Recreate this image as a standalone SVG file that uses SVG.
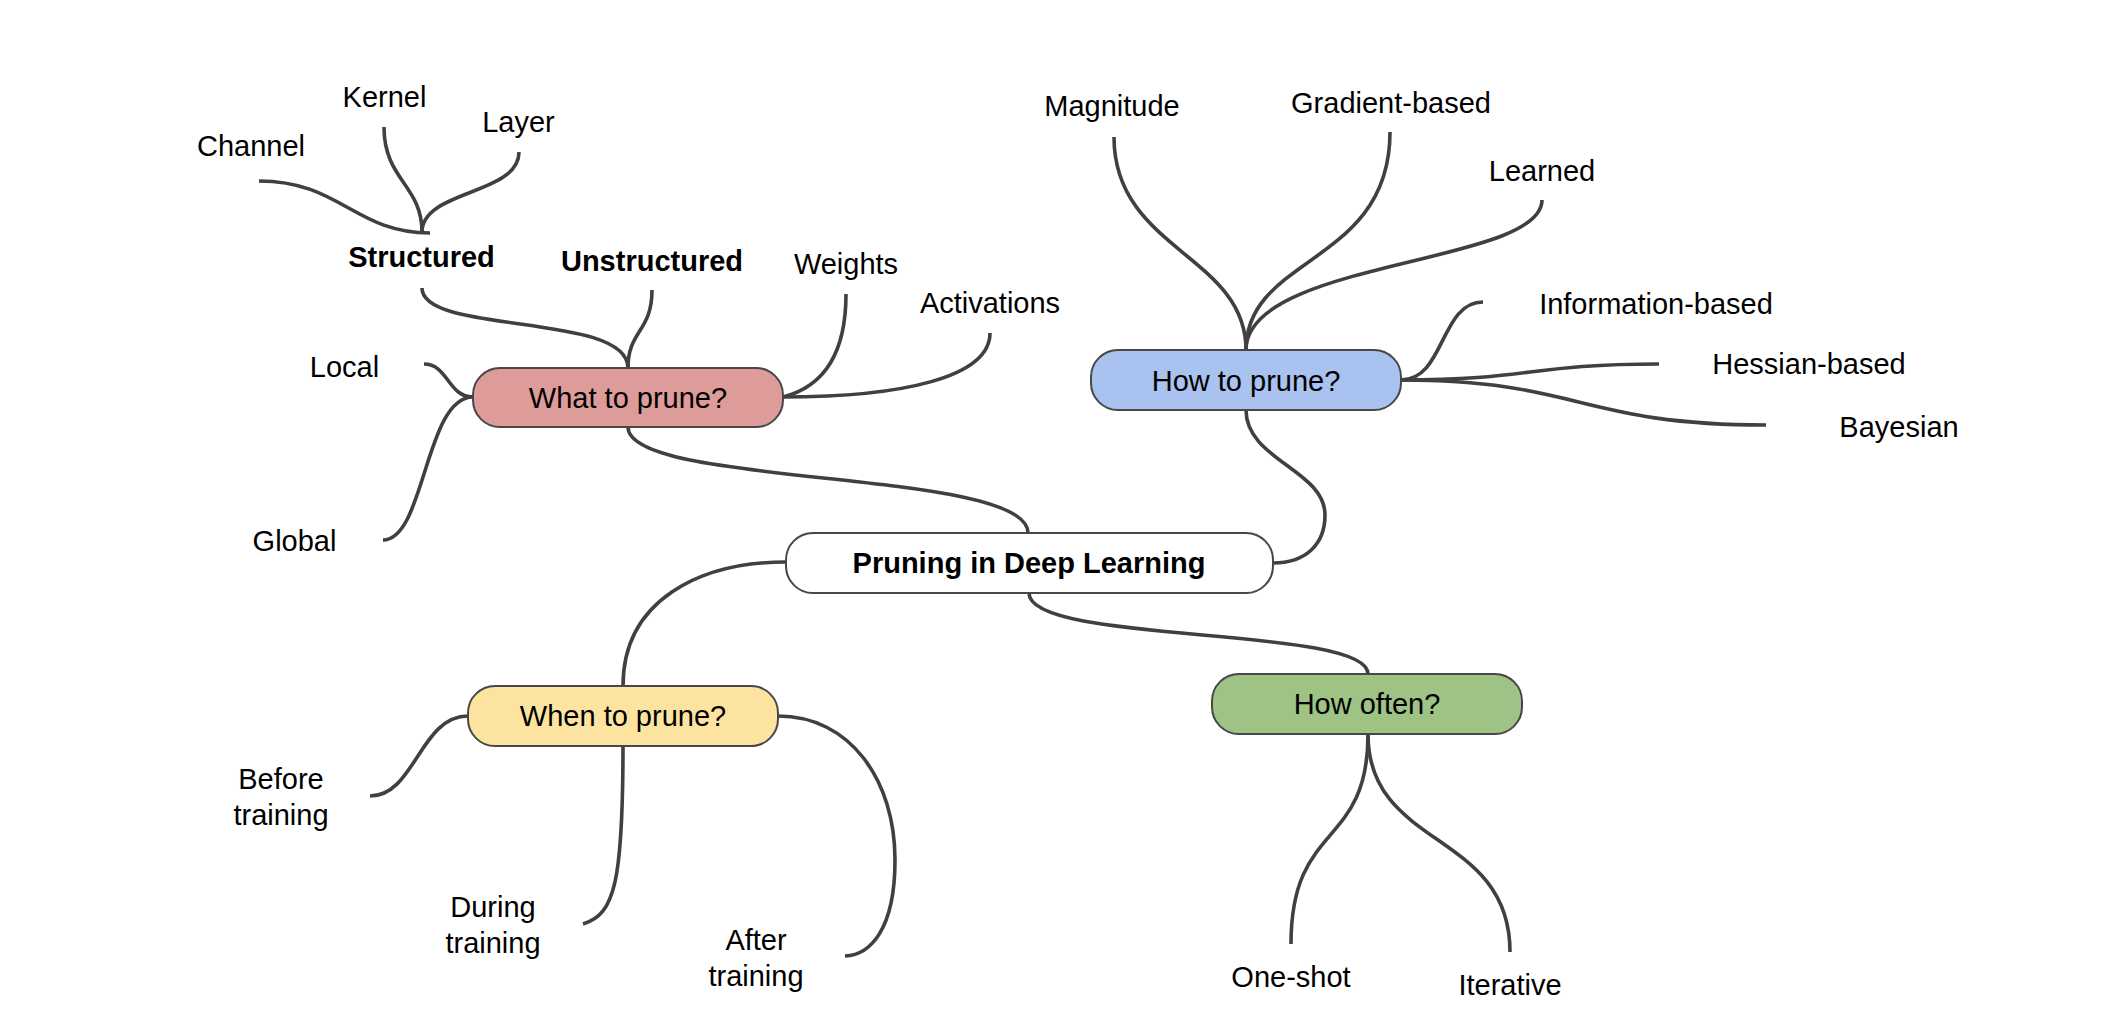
<svg xmlns="http://www.w3.org/2000/svg" width="2108" height="1028" viewBox="0 0 2108 1028">
<style>
.bg{fill:#ffffff}
.conn path{fill:none;stroke:#404040;stroke-width:3.6;stroke-linecap:butt}
.node rect{stroke:#474747;stroke-width:2}
text{font-family:"Liberation Sans",Arial,sans-serif;font-size:29px;fill:#000;text-anchor:middle}
.b{font-weight:bold}
</style>
<rect class="bg" x="0" y="0" width="2108" height="1028"/>
<g id="connectors" class="conn">
<path d="M1028,533 C1028,468 628,488 628,427"/>
<path d="M1273,563 C1305,563 1325,545 1325,515 C1325,470 1246,460 1246,410"/>
<path d="M786,562 C700,562 623,600 623,686"/>
<path d="M1029,593 C1029,645 1368,625 1368,674"/>
<path d="M628,368 C628,312 422,335 422,288"/>
<path d="M628,368 C628,330 652,332 652,290"/>
<path d="M783,397 C830,385 846,345 846,294"/>
<path d="M783,397 C900,397 990,378 990,333"/>
<path d="M473,397 C448,397 448,364 424,364"/>
<path d="M473,397 C425,397 425,540 383,540"/>
<path d="M430,233 C355,233 340,181 259,181"/>
<path d="M422,232 C422,185 384,180 384,127"/>
<path d="M422,232 C422,190 519,195 519,152"/>
<path d="M1246,350 C1246,255 1114,250 1114,137"/>
<path d="M1246,350 C1246,255 1390,265 1390,132"/>
<path d="M1246,350 C1246,260 1542,265 1542,200"/>
<path d="M1401,380 C1445,380 1440,302 1483,302"/>
<path d="M1401,380 C1530,380 1530,364 1659,364"/>
<path d="M1401,380 C1580,380 1580,425 1766,425"/>
<path d="M1368,734 C1368,850 1291,820 1291,944"/>
<path d="M1368,734 C1368,850 1510,830 1510,952"/>
<path d="M468,716 C420,716 415,796 370,796"/>
<path d="M623,746 C623,880 615,915 583,924"/>
<path d="M778,716 C850,716 895,780 895,860 C895,930 870,955 845,956"/>
</g>
<g id="central" class="node"><rect x="786" y="533" width="487" height="60" rx="27" fill="#ffffff"/><text class="b" x="1029" y="573">Pruning in Deep Learning</text></g>
<g id="what" class="node"><rect x="473" y="368" width="310" height="59" rx="27" fill="#dd9c9a"/><text x="628" y="408">What to prune?</text></g>
<g id="how" class="node"><rect x="1091" y="350" width="310" height="60" rx="27" fill="#a9c2ef"/><text x="1246" y="391">How to prune?</text></g>
<g id="often" class="node"><rect x="1212" y="674" width="310" height="60" rx="27" fill="#9ec385"/><text x="1367" y="714">How often?</text></g>
<g id="when" class="node"><rect x="468" y="686" width="310" height="60" rx="27" fill="#fce4a0"/><text x="623" y="726">When to prune?</text></g>
<g id="channel"><text x="251" y="156">Channel</text></g>
<g id="kernel"><text x="384.5" y="107">Kernel</text></g>
<g id="layer"><text x="518.5" y="132">Layer</text></g>
<g id="structured"><text class="b" x="421.5" y="267">Structured</text></g>
<g id="unstructured"><text class="b" x="652" y="271">Unstructured</text></g>
<g id="weights"><text x="846" y="274">Weights</text></g>
<g id="activations"><text x="990" y="313">Activations</text></g>
<g id="local"><text x="344.5" y="377">Local</text></g>
<g id="global"><text x="294.5" y="551">Global</text></g>
<g id="magnitude"><text x="1112" y="116">Magnitude</text></g>
<g id="gradient"><text x="1391" y="113">Gradient-based</text></g>
<g id="learned"><text x="1542" y="181">Learned</text></g>
<g id="information"><text x="1656" y="314">Information-based</text></g>
<g id="hessian"><text x="1809" y="374">Hessian-based</text></g>
<g id="bayesian"><text x="1899" y="437">Bayesian</text></g>
<g id="oneshot"><text x="1291" y="987">One-shot</text></g>
<g id="iterative"><text x="1510" y="995">Iterative</text></g>
<g id="before"><text x="281" y="789">Before</text><text x="281" y="825">training</text></g>
<g id="during"><text x="493" y="917">During</text><text x="493" y="953">training</text></g>
<g id="after"><text x="756" y="950">After</text><text x="756" y="986">training</text></g>
</svg>
